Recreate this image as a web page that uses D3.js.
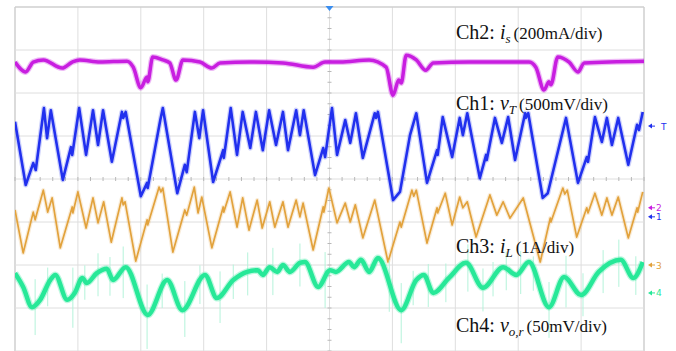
<!DOCTYPE html>
<html>
<head>
<meta charset="utf-8">
<script src="https://cdn.jsdelivr.net/npm/d3@7"></script>
<style>
  body { margin: 0; background: #fff; }
  svg { display: block; }
</style>
</head>
<body>
<div id="scope"></div>
<script>
// Trace vertices: time in divisions (0-10), level in divisions from centre
const ch2Time = [0, 0.17, 0.29, 0.45, 0.75, 0.91, 1.03, 1.35, 1.78, 1.88, 2.00, 2.10, 2.11, 2.19, 2.35, 2.46, 2.56, 2.67, 2.94, 3.13, 3.26, 3.74, 4.26, 4.74, 4.93, 5.17, 5.63, 5.90, 6.01, 6.10, 6.14, 6.22, 6.38, 6.53, 6.65, 7.22, 8.17, 8.28, 8.41, 8.49, 8.52, 8.63, 8.81, 8.95, 9.05, 10.0];
const ch2Val = [2.72, 2.49, 2.72, 2.77, 2.58, 2.72, 2.77, 2.72, 2.74, 2.60, 2.12, 2.37, 2.26, 2.84, 2.77, 2.70, 2.30, 2.77, 2.72, 2.58, 2.70, 2.72, 2.70, 2.60, 2.72, 2.72, 2.77, 2.60, 1.95, 2.30, 2.23, 2.88, 2.77, 2.53, 2.70, 2.72, 2.72, 2.60, 2.07, 2.26, 2.19, 2.84, 2.72, 2.49, 2.70, 2.74];

const ch1Time = [0, 0.17, 0.29, 0.33, 0.46, 0.51, 0.57, 0.76, 0.89, 0.91, 1.02, 1.13, 1.24, 1.32, 1.40, 1.54, 1.70, 1.72, 1.76, 2.00, 2.10, 2.11, 2.31, 2.35, 2.58, 2.70, 2.73, 2.86, 2.93, 2.99, 3.15, 3.31, 3.32, 3.43, 3.53, 3.62, 3.74, 3.83, 3.94, 4.04, 4.15, 4.26, 4.34, 4.47, 4.53, 4.59, 4.77, 4.90, 4.93, 5.04, 5.12, 5.25, 5.33, 5.42, 5.53, 5.72, 5.74, 5.77, 6.01, 6.12, 6.28, 6.38, 6.55, 6.71, 6.72, 6.80, 6.95, 7.07, 7.12, 7.19, 7.39, 7.49, 7.50, 7.63, 7.74, 7.84, 7.95, 8.11, 8.12, 8.16, 8.39, 8.47, 8.76, 8.95, 9.09, 9.11, 9.22, 9.33, 9.41, 9.49, 9.59, 9.75, 9.89, 9.92, 9.98];
const ch1Val = [1.33, -0.14, 0.37, 0.21, 1.65, 0.95, 1.60, -0.02, 0.74, 0.56, 1.65, 0.56, 1.60, 0.79, 1.60, 0.40, 1.56, 1.42, 1.56, -0.40, -0.09, -0.21, 1.37, 1.65, -0.33, 0.33, 0.16, 1.56, 0.95, 1.60, -0.07, 0.67, 0.49, 1.65, 0.56, 1.56, 0.72, 1.56, 0.67, 1.60, 0.79, 1.56, 0.67, 1.60, 1.02, 1.60, 0.09, 0.72, 0.51, 1.65, 0.56, 1.37, 0.84, 1.53, 0.49, 1.53, 1.42, 1.56, -0.49, -0.30, 1.02, 1.53, -0.09, 0.67, 0.56, 1.44, 0.51, 1.42, 1.02, 1.53, 0.02, 0.56, 0.44, 1.42, 0.84, 1.44, 0.44, 1.53, 1.42, 1.53, -0.44, -0.33, 1.42, -0.09, 0.51, 0.40, 1.44, 0.86, 1.42, 0.79, 1.42, 0.33, 1.26, 1.14, 1.56];

const ch3Time = [0, 0.13, 0.29, 0.32, 0.45, 0.52, 0.59, 0.72, 0.91, 0.92, 1.00, 1.13, 1.24, 1.32, 1.41, 1.53, 1.70, 1.72, 1.75, 1.92, 2.10, 2.11, 2.29, 2.32, 2.35, 2.51, 2.70, 2.73, 2.85, 2.91, 2.97, 3.13, 3.31, 3.32, 3.42, 3.53, 3.62, 3.72, 3.85, 3.93, 4.05, 4.13, 4.26, 4.34, 4.47, 4.53, 4.58, 4.74, 4.90, 4.91, 4.99, 5.12, 5.25, 5.33, 5.41, 5.53, 5.72, 5.93, 6.12, 6.14, 6.31, 6.34, 6.38, 6.55, 6.71, 6.72, 6.84, 6.95, 7.07, 7.12, 7.19, 7.33, 7.55, 7.66, 7.76, 7.87, 8.08, 8.35, 8.51, 8.52, 8.71, 8.74, 8.78, 8.93, 9.09, 9.11, 9.22, 9.33, 9.41, 9.49, 9.59, 9.75, 9.89, 9.90, 9.98];
const ch3Val = [-0.72, -1.72, -0.77, -0.95, -0.26, -0.77, -0.44, -1.60, -0.65, -0.79, -0.30, -1.14, -0.44, -1.02, -0.53, -1.47, -0.44, -0.60, -0.53, -1.91, -0.95, -1.07, -0.19, -0.30, -0.21, -1.70, -0.72, -0.84, -0.19, -0.79, -0.42, -1.60, -0.65, -0.77, -0.30, -1.12, -0.44, -1.19, -0.49, -1.14, -0.53, -1.12, -0.53, -1.12, -0.49, -0.88, -0.56, -1.65, -0.65, -0.77, -0.21, -1.02, -0.56, -1.00, -0.60, -1.37, -0.49, -1.93, -1.00, -1.12, -0.26, -0.40, -0.26, -1.49, -0.67, -0.79, -0.33, -1.07, -0.42, -0.67, -0.53, -1.35, -0.37, -0.84, -0.53, -0.91, -0.44, -1.93, -0.91, -1.00, -0.21, -0.35, -0.26, -1.35, -0.67, -0.79, -0.33, -0.84, -0.44, -0.84, -0.42, -1.37, -0.67, -0.77, -0.30];

const ch4Time = [0, 0.13, 0.27, 0.40, 0.56, 0.64, 0.83, 0.95, 1.07, 1.14, 1.30, 1.46, 1.56, 1.76, 2.11, 2.42, 2.66, 3.02, 3.21, 3.47, 3.69, 3.86, 3.94, 4.05, 4.17, 4.26, 4.37, 4.53, 4.61, 4.82, 5.01, 5.10, 5.31, 5.39, 5.50, 5.63, 5.77, 6.14, 6.38, 6.50, 6.65, 6.90, 7.17, 7.44, 7.76, 7.97, 8.17, 8.49, 8.73, 9.00, 9.28, 9.63, 9.83, 9.98];
const ch4Val = [-2.19, -2.51, -2.98, -2.81, -2.35, -2.23, -2.81, -2.65, -2.30, -2.42, -2.19, -2.09, -2.35, -2.05, -3.16, -2.35, -3.05, -2.23, -2.77, -2.35, -2.16, -2.12, -2.23, -2.05, -2.16, -2.00, -2.16, -1.95, -1.93, -2.51, -2.12, -2.16, -1.93, -2.05, -1.88, -2.16, -1.84, -3.05, -2.35, -2.23, -2.65, -2.30, -1.95, -2.53, -2.05, -2.23, -1.93, -2.98, -2.28, -2.70, -2.16, -1.88, -2.30, -1.93];

// Switching spikes on Ch4: time and length in divisions
const spikeTime = [0.32, 0.52, 0.92, 1.11, 1.32, 1.51, 1.72, 2.10, 2.34, 2.70, 2.94, 3.26, 3.47, 3.70, 4.10, 4.53, 4.93, 5.95, 6.14, 6.33, 6.57, 6.85, 7.20, 7.44, 7.60, 7.81, 8.04, 8.24, 8.49, 8.76, 9.03, 9.35, 9.60, 9.87];
const spikeLen = [1.3, 0.9, 1.4, 0.8, 1.0, 0.9, 1.2, 1.5, 0.8, 1.3, 0.9, 1.2, 0.8, 1.0, 1.1, 1.0, 1.3, 1.2, 1.4, 0.8, 1.0, 0.9, 1.1, 1.0, 0.8, 0.9, 1.0, 0.8, 1.3, 1.2, 1.0, 1.0, 1.1, 0.9];

// Channel reference markers on the right edge
const markerText = ["T", "2", "1", "3", "4"];
const markerLevel = [1.23, -0.67, -0.88, -2.0, -2.65];
const markerChan = ["ch1", "ch2", "ch1", "ch3", "ch4"];

const colors = { ch1: "#2130ee", ch2: "#c81ee0", ch3: "#e2a23c", ch4: "#27e898", spike: "#b4f3da" };

const width = 676, height = 351;
const plot = { left: 15, right: 644, top: 7, bottom: 351 };

const svg = d3.select("#scope").append("svg")
    .attr("width", width)
    .attr("height", height);

const x = d3.scaleLinear().domain([0, 10]).range([plot.left, plot.right]);
const y = d3.scaleLinear().domain([-4, 4]).range([plot.bottom, plot.top]);

svg.append("clipPath").attr("id", "clip")
  .append("rect")
    .attr("x", plot.left).attr("y", plot.top)
    .attr("width", plot.right - plot.left).attr("height", plot.bottom - plot.top);

// Graticule
const grid = svg.append("g");
grid.selectAll(".vline")
    .data(d3.range(0, 11))
    .join("line")
    .attr("x1", d => x(d)).attr("x2", d => x(d))
    .attr("y1", plot.top).attr("y2", plot.bottom)
    .attr("stroke", d => (d === 0 || d === 10) ? "#cfcfcf" : "#dedede")
    .attr("stroke-width", d => (d === 0 || d === 10) ? 1.5 : 1);

grid.selectAll(".hline")
    .data(d3.range(-4, 5))
    .join("line")
    .attr("x1", plot.left).attr("x2", plot.right)
    .attr("y1", d => y(d)).attr("y2", d => y(d))
    .attr("stroke", d => d === 4 ? "#cfcfcf" : "#dedede")
    .attr("stroke-width", d => d === 4 ? 1.5 : 1);

// minor ticks on the centre lines
grid.selectAll(".vtick")
    .data(d3.range(-4, 4.001, 0.25))
    .join("line")
    .attr("x1", x(5) - 2).attr("x2", x(5) + 2)
    .attr("y1", d => y(d)).attr("y2", d => y(d))
    .attr("stroke", "#b8b8b8");

grid.selectAll(".htick")
    .data(d3.range(0, 10.001, 0.2))
    .join("line")
    .attr("x1", d => x(d)).attr("x2", d => x(d))
    .attr("y1", y(0) - 2).attr("y2", y(0) + 2)
    .attr("stroke", "#b8b8b8");

const traces = svg.append("g").attr("clip-path", "url(#clip)");

function drawTrace(times, vals, color, w, curve, glow) {
    const pts = times.map((t, i) => [t, vals[i]]);
    const line = d3.line()
        .x(d => x(d[0]))
        .y(d => y(d[1]))
        .curve(curve);
    traces.append("path")
        .attr("d", line(pts))
        .attr("fill", "none")
        .attr("stroke", color)
        .attr("stroke-opacity", glow)
        .attr("stroke-width", w + 2.5)
        .attr("stroke-linejoin", "round");
    traces.append("path")
        .attr("d", line(pts))
        .attr("fill", "none")
        .attr("stroke", color)
        .attr("stroke-width", w)
        .attr("stroke-linejoin", "round");
}

drawTrace(ch2Time, ch2Val, colors.ch2, 3.5, d3.curveMonotoneX, 0.3);
drawTrace(ch1Time, ch1Val, colors.ch1, 2.6, d3.curveLinear, 0.22);
drawTrace(ch3Time, ch3Val, colors.ch3, 1.7, d3.curveLinear, 0.2);

// spikes sit on the Ch4 trace
const bisect = d3.bisector(d => d).left;
function ch4At(t) {
    const i = Math.max(1, Math.min(ch4Time.length - 1, bisect(ch4Time, t)));
    const t0 = ch4Time[i - 1], t1 = ch4Time[i];
    const k = (t - t0) / (t1 - t0);
    return ch4Val[i - 1] + k * (ch4Val[i] - ch4Val[i - 1]);
}
traces.selectAll(".spike")
    .data(spikeTime.map((t, i) => ({ t, len: spikeLen[i] })))
    .join("line")
    .attr("x1", d => x(d.t)).attr("x2", d => x(d.t))
    .attr("y1", d => y(ch4At(d.t) + d.len * 0.45))
    .attr("y2", d => y(ch4At(d.t) - d.len * 0.55))
    .attr("stroke", colors.spike)
    .attr("stroke-width", 1);

drawTrace(ch4Time, ch4Val, colors.ch4, 4.5, d3.curveMonotoneX, 0.3);

// trigger position marker
svg.append("path")
    .attr("d", `M${x(5) - 4},${plot.top - 1} L${x(5) + 4},${plot.top - 1} L${x(5)},${plot.top + 4} Z`)
    .attr("fill", "#3a8ef0");

// right-hand channel markers
const markers = svg.selectAll(".marker")
    .data(markerText.map((m, i) => ({ m, v: markerLevel[i], c: colors[markerChan[i]] })))
    .join("g")
    .attr("transform", d => `translate(${plot.right + 4},${y(d.v)})`);
markers.append("path")
    .attr("d", "M0,0 L4,-2.5 L4,2.5 Z")
    .attr("fill", d => d.c);
markers.append("line")
    .attr("x1", 3).attr("x2", 7).attr("y1", 0).attr("y2", 0)
    .attr("stroke", d => d.c);
markers.append("text")
    .attr("x", d => d.m === "T" ? 13 : 8)
    .attr("y", 3.5)
    .attr("font-family", "DejaVu Sans, sans-serif")
    .attr("font-size", 9)
    .attr("fill", d => d.c)
    .text(d => d.m);

// channel captions
const captions = [
    { y: 39, ch: "Ch2: ", v: "i", sub: "s", scale: "(200mA/div)" },
    { y: 110, ch: "Ch1: ", v: "v", sub: "T", scale: "(500mV/div)" },
    { y: 253, ch: "Ch3: ", v: "i", sub: "L", scale: "(1A/div)" },
    { y: 332, ch: "Ch4: ", v: "v", sub: "o,r", scale: "(50mV/div)" }
];
const cap = svg.selectAll(".caption")
    .data(captions)
    .join("text")
    .attr("x", 456)
    .attr("y", d => d.y)
    .attr("font-family", "Liberation Serif, Times New Roman, serif")
    .attr("font-size", 20)
    .attr("fill", "#111");
cap.append("tspan").text(d => d.ch);
cap.append("tspan").attr("font-style", "italic").text(d => d.v);
cap.append("tspan").attr("font-style", "italic").attr("font-size", 13).attr("dy", 4).text(d => d.sub);
cap.append("tspan").attr("font-size", 17).attr("dy", -4).attr("dx", 3).text(d => d.scale);
</script>
</body>
</html>
